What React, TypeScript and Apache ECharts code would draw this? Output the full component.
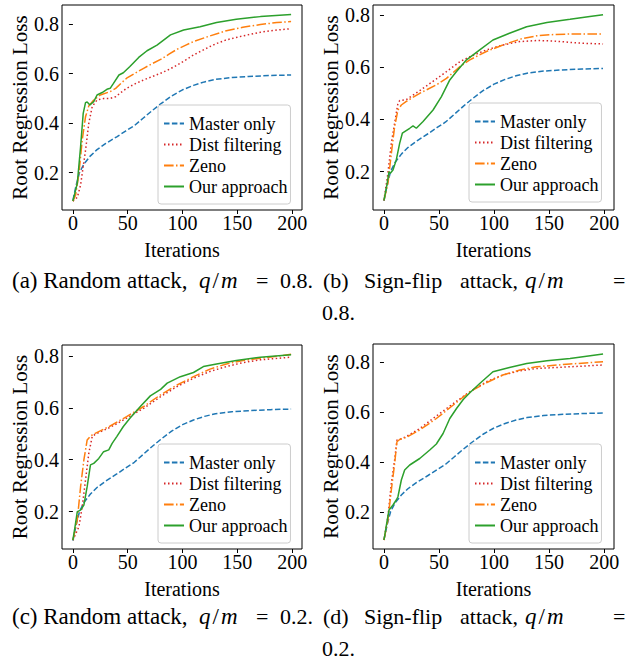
import React, { useEffect, useRef } from "react";
import * as echarts from "echarts";

const seriesNames = ["Master only", "Dist filtering", "Zeno", "Our approach"];
const xTicks = [0, 50, 100, 150, 200];
const yTicks = [0.2, 0.4, 0.6, 0.8];

// Shared baseline (same in all four panels)
const masterOnly = [
  [0, 0.088], [3, 0.15], [6, 0.2], [10, 0.235], [16, 0.268], [22, 0.293], [30, 0.318],
  [40, 0.345], [48, 0.368], [56, 0.39], [64, 0.42], [72, 0.45], [80, 0.478], [90, 0.51],
  [100, 0.535], [110, 0.553], [120, 0.567], [130, 0.577], [145, 0.585], [160, 0.589],
  [180, 0.593], [199, 0.595],
];

// (a) Random attack, q/m = 0.8
const aDist = [
  [0, 0.085], [4, 0.1], [7, 0.15], [11.5, 0.29], [14.5, 0.4], [17.6, 0.467], [22, 0.494],
  [28, 0.5], [34, 0.5], [39, 0.507], [44, 0.525], [49, 0.541], [57, 0.56], [64.5, 0.575],
  [72, 0.588], [80, 0.602], [88, 0.618], [95, 0.635], [103, 0.656], [110, 0.676],
  [118, 0.694], [125, 0.71], [132, 0.724], [140, 0.737], [155, 0.753], [171, 0.768],
  [186, 0.777], [199, 0.782],
];
const aZeno = [
  [0, 0.085], [2.5, 0.11], [5.5, 0.197], [8.5, 0.332], [11.5, 0.426], [14.5, 0.47],
  [19, 0.494], [25, 0.514], [34, 0.528], [39, 0.541], [44, 0.562], [49, 0.582], [57, 0.603],
  [64.5, 0.622], [72, 0.64], [80, 0.658], [88, 0.68], [95, 0.699], [103, 0.716], [110, 0.73],
  [125, 0.753], [140, 0.774], [155, 0.788], [171, 0.799], [186, 0.807], [199, 0.811],
];
const aOurs = [
  [0, 0.085], [4, 0.157], [7, 0.305], [9.4, 0.44], [11.5, 0.483], [13, 0.486], [15.5, 0.474],
  [19, 0.487], [22, 0.514], [26.7, 0.524], [31, 0.537], [34, 0.541], [37, 0.561], [42, 0.595],
  [46, 0.604], [52, 0.629], [60, 0.666], [67.6, 0.693], [76.7, 0.716], [89, 0.757],
  [101, 0.777], [116, 0.79], [131, 0.807], [149, 0.82], [171, 0.831], [199, 0.84],
];

// (b) Sign-flip attack, q/m = 0.8
const bDist = [
  [0, 0.09], [3.6, 0.194], [6.7, 0.309], [9.7, 0.385], [12.7, 0.462], [14.3, 0.472],
  [20, 0.475], [32.5, 0.51], [47.6, 0.555], [56.8, 0.583], [69, 0.621], [78, 0.64],
  [93, 0.666], [108, 0.685], [123.5, 0.698], [138.7, 0.702], [154, 0.7], [169, 0.695],
  [184, 0.691], [199, 0.689],
];
const bZeno = [
  [0, 0.09], [3.6, 0.155], [6.7, 0.27], [9.7, 0.372], [12.7, 0.436], [15.8, 0.455],
  [20, 0.468], [32.5, 0.5], [47.6, 0.532], [56.8, 0.557], [69, 0.602], [78, 0.628],
  [93, 0.66], [108, 0.685], [123.5, 0.707], [138.7, 0.72], [154, 0.725], [169, 0.727],
  [199, 0.727],
];
const bOurs = [
  [0, 0.09], [2.7, 0.149], [4.6, 0.2], [5.8, 0.194], [8.2, 0.206], [11.2, 0.245],
  [14.3, 0.309], [16.7, 0.347], [18.8, 0.353], [23.4, 0.366], [26.4, 0.375], [29.4, 0.366],
  [35.5, 0.392], [44.6, 0.436], [52.2, 0.487], [59.8, 0.551], [65.9, 0.583], [75, 0.628],
  [87, 0.666], [99, 0.704], [114, 0.73], [129.6, 0.755], [148, 0.771], [169, 0.783],
  [187, 0.794], [199, 0.801],
];

// (c) Random attack, q/m = 0.2
const cDist = [
  [0, 0.09], [5.5, 0.142], [8.5, 0.219], [11.5, 0.322], [14.5, 0.425], [17.6, 0.489],
  [20.6, 0.499], [34, 0.525], [49, 0.56], [64.5, 0.598], [80, 0.643], [95, 0.682],
  [110, 0.714], [125, 0.74], [140, 0.759], [155, 0.774], [171, 0.785], [199, 0.795],
];
const cZeno = [
  [0, 0.09], [4, 0.168], [7, 0.296], [10, 0.399], [13, 0.476], [16, 0.491], [19, 0.499],
  [34, 0.53], [49, 0.566], [64.5, 0.605], [80, 0.65], [95, 0.688], [110, 0.72], [125, 0.749],
  [140, 0.769], [155, 0.782], [171, 0.791], [199, 0.806],
];
const cOurs = [
  [0, 0.09], [2.4, 0.155], [4, 0.2], [7, 0.206], [10, 0.225], [13, 0.296], [16, 0.38],
  [19, 0.386], [23.6, 0.405], [28, 0.431], [32.7, 0.438], [35.8, 0.463], [40, 0.489],
  [46, 0.528], [52, 0.56], [61.5, 0.605], [70.6, 0.646], [80, 0.671], [86, 0.695],
  [98, 0.72], [110, 0.736], [119, 0.759], [131, 0.769], [149, 0.782], [171, 0.795],
  [199, 0.804],
];

// (d) Sign-flip attack, q/m = 0.2
const dDist = [
  [0, 0.087], [3.6, 0.18], [6.7, 0.313], [9.7, 0.407], [11.8, 0.487], [14.3, 0.489],
  [20, 0.5], [32.5, 0.533], [47.6, 0.583], [63, 0.633], [78, 0.68], [93, 0.72],
  [108, 0.747], [123.5, 0.764], [138.7, 0.773], [169, 0.78], [199, 0.787],
];
const dZeno = [
  [0, 0.087], [3.6, 0.167], [6.7, 0.287], [9.7, 0.393], [11.8, 0.48], [14.3, 0.489],
  [20, 0.497], [32.5, 0.527], [47.6, 0.573], [63, 0.627], [78, 0.68], [93, 0.716],
  [108, 0.747], [123.5, 0.767], [138.7, 0.78], [169, 0.791], [199, 0.8],
];
const dOurs = [
  [0, 0.087], [2, 0.14], [4.6, 0.207], [8.2, 0.227], [11.2, 0.247], [12.7, 0.26],
  [15.8, 0.327], [18.8, 0.367], [23.4, 0.387], [32.5, 0.413], [41.6, 0.447], [47.6, 0.471],
  [53.7, 0.513], [59.8, 0.573], [65.9, 0.613], [72, 0.649], [78, 0.676], [87, 0.713],
  [99, 0.76], [114, 0.777], [129.6, 0.793], [148, 0.804], [169, 0.813], [199, 0.831],
];

const captionLeft = ["(a) Random attack,", "(c) Random attack,"];
const captionRight = ["(b)", "(d)"];
const captionValues = ["0.8.", "0.2."];

const FONT = "'Liberation Serif', 'Times New Roman', serif";

const lineStyles = [
  { color: "#1f77b4", type: [5.5, 2.4] },
  { color: "#d62728", type: [1.5, 2.5] },
  { color: "#ff7f0e", type: [9.6, 2.4, 1.5, 2.4] },
  { color: "#2ca02c", type: "solid" },
];

const panels = [
  { grid: { left: 62, top: 5, width: 240, height: 205 }, yMin: 0.049, yMax: 0.878, legend: { left: 158, top: 105 }, data: [masterOnly, aDist, aZeno, aOurs] },
  { grid: { left: 373, top: 5, width: 241, height: 205 }, yMin: 0.053, yMax: 0.838, legend: { left: 469, top: 103 }, data: [masterOnly, bDist, bZeno, bOurs] },
  { grid: { left: 62, top: 345, width: 240, height: 204 }, yMin: 0.056, yMax: 0.842, legend: { left: 158, top: 444 }, data: [masterOnly, cDist, cZeno, cOurs] },
  { grid: { left: 373, top: 344, width: 241, height: 205 }, yMin: 0.051, yMax: 0.871, legend: { left: 469, top: 444 }, data: [masterOnly, dDist, dZeno, dOurs] },
];

function txt(x: number, y: number, text: string, size = 22) {
  return {
    type: "text",
    x,
    y,
    style: { text, fontFamily: FONT, fontSize: size, fill: "#000", align: "left", verticalAlign: "middle" },
  };
}

function qm(x: number, y: number) {
  return {
    type: "text",
    x,
    y,
    style: {
      text: "{i|q}{n|/}{i|m}",
      align: "left",
      verticalAlign: "middle",
      fill: "#000",
      rich: {
        i: { fontFamily: FONT, fontSize: 23, fontStyle: "italic", fill: "#000", padding: [0, 1, 0, 1] },
        n: { fontFamily: FONT, fontSize: 23, fill: "#000", padding: [0, 1, 0, 1] },
      },
    },
  };
}

export default function App() {
  const ref = useRef<HTMLDivElement>(null);

  useEffect(() => {
    const chart = echarts.init(ref.current as HTMLDivElement, null, { renderer: "svg" });

    const grids = panels.map((p) => ({
      ...p.grid,
      show: true,
      borderColor: "#000",
      borderWidth: 1,
      backgroundColor: "transparent",
    }));

    const xAxes = panels.map((_, i) => ({
      type: "value",
      gridIndex: i,
      min: -9.95,
      max: 208.95,
      axisLine: { show: false },
      splitLine: { show: false },
      axisTick: { show: true, customValues: xTicks, length: 4, lineStyle: { color: "#000" } },
      axisLabel: { customValues: xTicks, fontSize: 20, fontFamily: FONT, color: "#000", margin: 3 },
      name: "Iterations",
      nameLocation: "middle",
      nameGap: 30,
      nameTextStyle: { fontSize: 20, fontFamily: FONT, color: "#000" },
    }));

    const yAxes = panels.map((p, i) => ({
      type: "value",
      gridIndex: i,
      min: p.yMin,
      max: p.yMax,
      axisLine: { show: false },
      splitLine: { show: false },
      axisTick: { show: true, customValues: yTicks, length: 4, lineStyle: { color: "#000" } },
      axisLabel: {
        customValues: yTicks,
        fontSize: 20,
        fontFamily: FONT,
        color: "#000",
        margin: 3,
        formatter: (v: number) => v.toFixed(1),
      },
      name: "Root Regression Loss",
      nameLocation: "middle",
      nameGap: 23,
      nameTextStyle: { fontSize: 21, fontFamily: FONT, color: "#000" },
    }));

    const series: any[] = [];
    panels.forEach((p, i) => {
      p.data.forEach((d, k) => {
        series.push({
          type: "line",
          name: seriesNames[k],
          xAxisIndex: i,
          yAxisIndex: i,
          data: d,
          symbol: "none",
          showSymbol: false,
          smooth: false,
          lineStyle: { color: lineStyles[k].color, width: 1.5, type: lineStyles[k].type },
          itemStyle: { color: lineStyles[k].color },
          z: 2 + k,
        });
      });
    });

    const legends = panels.map((p) => ({
      data: seriesNames,
      orient: "vertical",
      left: p.legend.left,
      top: p.legend.top,
      padding: [8, 3, 7, 5],
      itemGap: 0,
      itemWidth: 20,
      itemHeight: 10,
      borderColor: "#ccc",
      borderWidth: 1,
      borderRadius: 3,
      backgroundColor: "rgba(255,255,255,0.8)",
      selectedMode: false,
      itemStyle: { opacity: 0, borderWidth: 0 },
      textStyle: { fontFamily: FONT, fontSize: 18, color: "#000", lineHeight: 21 },
    }));

    const captionRows = [
      { y1: 280, y2: 312 },
      { y1: 616, y2: 648 },
    ];
    const graphics: any[] = [];
    captionRows.forEach((r, j) => {
      graphics.push(txt(12, r.y1, captionLeft[j], 23));
      graphics.push(qm(198, r.y1));
      graphics.push(txt(256, r.y1, "="));
      graphics.push(txt(280, r.y1, captionValues[j]));
      graphics.push(txt(323, r.y1, captionRight[j]));
      graphics.push(txt(364, r.y1, "Sign-flip"));
      graphics.push(txt(460, r.y1, "attack,"));
      graphics.push(qm(524, r.y1));
      graphics.push(txt(613, r.y1, "="));
      graphics.push(txt(322, r.y2, captionValues[j]));
    });

    chart.setOption({
      animation: false,
      backgroundColor: "#fff",
      grid: grids,
      xAxis: xAxes,
      yAxis: yAxes,
      legend: legends,
      series,
      graphic: graphics,
    });

    return () => chart.dispose();
  }, []);

  return (
    <div
      ref={ref}
      style={{ position: "absolute", left: 0, top: 0, width: 639, height: 660 }}
    />
  );
}
